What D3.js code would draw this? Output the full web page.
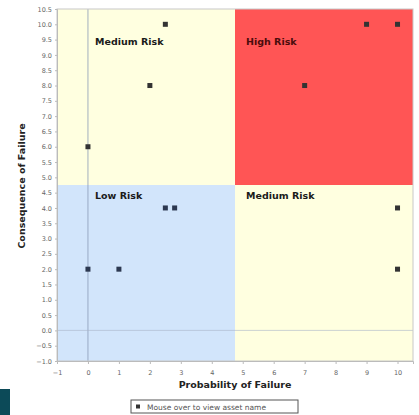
<!doctype html>
<html lang="en">
<head>
<meta charset="UTF-8">
<title>Risk Matrix</title>
<style>
  body { margin: 0; background: #fff; }
  svg { font-family: "DejaVu Sans", Verdana, sans-serif; }
</style>
</head>
<body>
<svg width="419" height="415"></svg>
<script src="https://cdn.jsdelivr.net/npm/d3@7"></script>
<script>
// data
var probability = [2.5, 9, 10, 2, 7, 0, 2.5, 2.8, 10, 0, 1, 10];
var consequence = [10, 10, 10, 8, 8, 6, 4, 4, 4, 2, 2, 2];
var xTicks = [-1, 0, 1, 2, 3, 4, 5, 6, 7, 8, 9, 10];
var yTicks = d3.range(-1, 10.51, 0.5);
var zoneNames = ['Medium Risk', 'High Risk', 'Low Risk', 'Medium Risk'];
var zoneX0 = [-1, 4.75, -1, 4.75];
var zoneX1 = [4.75, 10.5, 4.75, 10.5];
var zoneY0 = [4.75, 4.75, -1, -1];
var zoneY1 = [10.5, 10.5, 4.75, 4.75];
var zoneColors = ['#ffffe0', '#ff5555', '#d2e5fb', '#ffffe0'];

var svg = d3.select('svg');

var x = d3.scaleLinear().domain([-1, 10.5]).range([57, 413]);
var y = d3.scaleLinear().domain([-1, 10.5]).range([361, 9]);

// zones
var zones = svg.append('g');
zones.selectAll('rect')
    .data(zoneNames)
    .enter()
    .append('rect')
    .attr('x', function(d, i) { return x(zoneX0[i]); })
    .attr('y', function(d, i) { return y(zoneY1[i]); })
    .attr('width', function(d, i) { return x(zoneX1[i]) - x(zoneX0[i]); })
    .attr('height', function(d, i) { return y(zoneY0[i]) - y(zoneY1[i]); })
    .attr('fill', function(d, i) { return zoneColors[i]; });

zones.selectAll('text')
    .data(zoneNames)
    .enter()
    .append('text')
    .attr('x', function(d, i) { return x(zoneX0[i]) + (i % 2 === 0 ? 38 : 11); })
    .attr('y', function(d, i) { return y(zoneY1[i]) + (i < 2 ? 36 : 14); })
    .style('font-size', '9.5px')
    .style('font-weight', 'bold')
    .style('fill', function(d, i) { return i === 1 ? '#4a0c0c' : '#1a1a1a'; })
    .text(function(d) { return d; });

// zero lines
svg.append('line')
    .attr('x1', x(0)).attr('x2', x(0))
    .attr('y1', y(10.5)).attr('y2', y(-1))
    .attr('stroke', '#8a9ab8').attr('stroke-width', 0.8);
svg.append('line')
    .attr('x1', x(-1)).attr('x2', x(10.5))
    .attr('y1', y(0)).attr('y2', y(0))
    .attr('stroke', '#a8b4c8').attr('stroke-width', 0.6);

// frame
svg.append('rect')
    .attr('x', x(-1)).attr('y', y(10.5))
    .attr('width', x(10.5) - x(-1)).attr('height', y(-1) - y(10.5))
    .attr('fill', 'none').attr('stroke', '#c8c8c8');

// axes
var xAxis = svg.append('g')
    .attr('transform', 'translate(0,' + y(-1) + ')')
    .call(d3.axisBottom(x).tickValues(xTicks).tickSize(3).tickFormat(d3.format('d')));
var yAxis = svg.append('g')
    .attr('transform', 'translate(' + x(-1) + ',0)')
    .call(d3.axisLeft(y).tickValues(yTicks).tickSize(2).tickFormat(d3.format('.1f')));
[xAxis, yAxis].forEach(function(a) {
    a.select('.domain').attr('stroke', '#bbb');
    a.selectAll('.tick line').attr('stroke', '#bbb');
    a.selectAll('.tick text').style('font-size', '6.5px').style('fill', '#666')
        .style('font-family', '"DejaVu Sans", sans-serif');
});
xAxis.selectAll('.tick text').attr('dy', '1.2em');

// points
svg.append('g').selectAll('rect')
    .data(probability)
    .enter()
    .append('rect')
    .attr('x', function(d) { return x(d) - 2.5; })
    .attr('y', function(d, i) { return y(consequence[i]) - 2.5; })
    .attr('width', 5).attr('height', 5)
    .attr('fill', function(d, i) { return (d < 4.75 && consequence[i] < 4.75) ? '#2c3850' : '#333'; });

// axis titles
svg.append('text')
    .attr('x', 235).attr('y', 388)
    .attr('text-anchor', 'middle')
    .style('font-size', '9.5px').style('font-weight', 'bold').style('fill', '#222')
    .text('Probability of Failure');
svg.append('text')
    .attr('transform', 'translate(25,186) rotate(-90)')
    .attr('text-anchor', 'middle')
    .style('font-size', '9.5px').style('font-weight', 'bold').style('fill', '#222')
    .text('Consequence of Failure');

// legend
var legend = svg.append('g').attr('transform', 'translate(131,400)');
legend.append('rect')
    .attr('width', 167).attr('height', 13)
    .attr('fill', '#fff').attr('stroke', '#555');
legend.append('rect')
    .attr('x', 5).attr('y', 4.5).attr('width', 4).attr('height', 4)
    .attr('fill', '#333');
legend.append('text')
    .attr('x', 16).attr('y', 9.5)
    .style('font-size', '7.5px').style('fill', '#555')
    .text('Mouse over to view asset name');

// corner block
svg.append('rect')
    .attr('x', 0).attr('y', 389).attr('width', 10).attr('height', 26)
    .attr('fill', '#0c4a58');
</script>
</body>
</html>
